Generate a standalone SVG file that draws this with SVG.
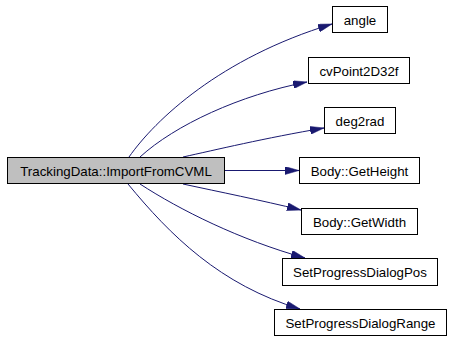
<svg xmlns="http://www.w3.org/2000/svg" width="450" height="341" viewBox="0 0 450 341">
  <style>
    .node rect { fill: #ffffff; stroke: #000000; stroke-width: 1; }
    .node.root rect { fill: #bfbfbf; }
    .node text { font-family: "Liberation Sans", Arial, Helvetica, sans-serif; font-size: 13.3px; fill: #000000; text-anchor: middle; }
    .edge { fill: none; stroke: #191970; stroke-width: 1; marker-end: url(#arrow); }
  </style>
  <defs>
    <marker id="arrow" markerUnits="userSpaceOnUse" markerWidth="14" markerHeight="8" refX="14" refY="4" orient="auto">
      <path d="M0,0 L14,4 L0,8 Z" fill="#191970" stroke="#191970" stroke-width="0.5"/>
    </marker>
  </defs>
  <rect width="450" height="341" fill="#ffffff"/>

  <g id="edges">
    <path class="edge" d="M129,157 C155,120 220,58 332,24"/>
    <path class="edge" d="M140,157 C175,125 240,95 307,82"/>
    <path class="edge" d="M183,157 C215,150 265,138 324,128"/>
    <path class="edge" d="M224,170.5 L299,170.5"/>
    <path class="edge" d="M183,184 C220,192 260,200 301,210"/>
    <path class="edge" d="M140,184 C180,210 240,240 305,258"/>
    <path class="edge" d="M128,184 C170,235 220,285 300,309"/>
  </g>

  <g id="node-import" class="node root">
    <rect x="7.5" y="157.5" width="217" height="26"/>
    <text x="116" y="175.5">TrackingData::ImportFromCVML</text>
  </g>
  <g id="node-angle" class="node">
    <rect x="332.5" y="6.5" width="55" height="26"/>
    <text x="360" y="24.5">angle</text>
  </g>
  <g id="node-cvpoint" class="node">
    <rect x="308.5" y="57.5" width="101" height="26"/>
    <text x="359" y="75.5">cvPoint2D32f</text>
  </g>
  <g id="node-deg2rad" class="node">
    <rect x="324.5" y="107.5" width="71" height="26"/>
    <text x="360" y="125.5">deg2rad</text>
  </g>
  <g id="node-getheight" class="node">
    <rect x="299.5" y="157.5" width="120" height="26"/>
    <text x="359.5" y="175.5">Body::GetHeight</text>
  </g>
  <g id="node-getwidth" class="node">
    <rect x="301.5" y="208.5" width="116" height="26"/>
    <text x="359.5" y="226.5">Body::GetWidth</text>
  </g>
  <g id="node-setpos" class="node">
    <rect x="282.5" y="258.5" width="155" height="27"/>
    <text x="360" y="277">SetProgressDialogPos</text>
  </g>
  <g id="node-setrange" class="node">
    <rect x="274.5" y="309.5" width="172" height="26"/>
    <text x="360.5" y="327.5">SetProgressDialogRange</text>
  </g>
</svg>
